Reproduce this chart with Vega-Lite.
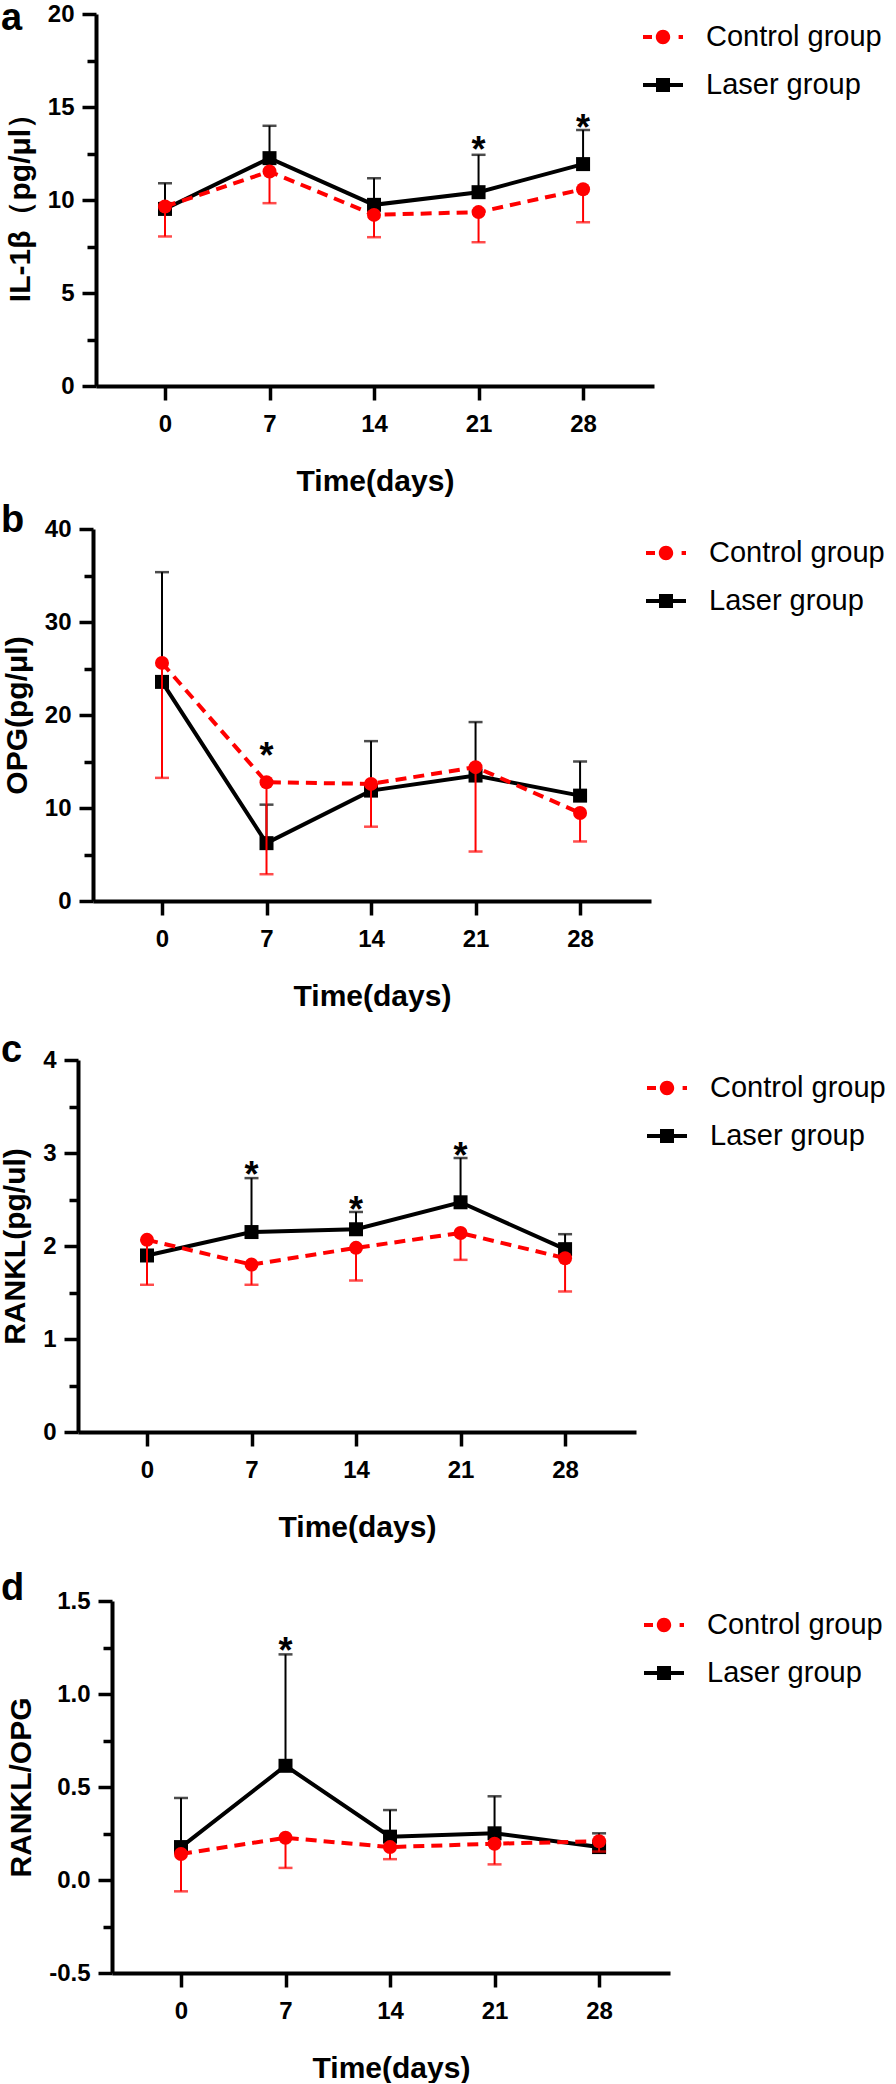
{
  "$schema": "https://vega.github.io/schema/vega-lite/v6.json",
  "background": "white",
  "padding": {"left": 0, "top": 0, "right": 0, "bottom": 0},
  "config": {
    "font": "Liberation Sans",
    "view": {"stroke": null},
    "axis": {"domainColor": "black", "domainWidth": 4, "tickColor": "black", "tickWidth": 3.5, "labelColor": "black", "labelFont": "Liberation Sans", "labelFontSize": 24, "labelFontWeight": "bold", "titleFont": "Liberation Sans", "titleFontSize": 30, "titleFontWeight": "bold", "titleColor": "black", "grid": false, "labelOverlap": false, "labelFlush": false},
    "axisX": {"tickSize": 14, "labelPadding": 12, "titlePadding": 30},
    "axisY": {"tickSize": 14, "labelPadding": 8, "titlePadding": 11.7},
    "legend": {"orient": "none", "labelFont": "Liberation Sans", "labelFontSize": 29, "labelColor": "black", "labelOffset": 23, "rowPadding": 13, "padding": 0, "symbolStrokeWidth": 0, "symbolSize": 1600, "labelLimit": 400}
  },
  "datasets": {
    "dA": [
      {"group": "Control group", "day": 0, "mean": 9.65, "bar": 8.04},
      {"group": "Control group", "day": 7, "mean": 11.53, "bar": 9.83},
      {"group": "Control group", "day": 14, "mean": 9.2, "bar": 8.0},
      {"group": "Control group", "day": 21, "mean": 9.35, "bar": 7.73},
      {"group": "Control group", "day": 28, "mean": 10.58, "bar": 8.81},
      {"group": "Laser group", "day": 0, "mean": 9.52, "bar": 10.9},
      {"group": "Laser group", "day": 7, "mean": 12.25, "bar": 13.99},
      {"group": "Laser group", "day": 14, "mean": 9.74, "bar": 11.17},
      {"group": "Laser group", "day": 21, "mean": 10.42, "bar": 12.43},
      {"group": "Laser group", "day": 28, "mean": 11.93, "bar": 13.76}
    ],
    "sA": [
      {"day": 21, "pos": 13.1, "label": "*"},
      {"day": 28, "pos": 14.3, "label": "*"}
    ],
    "lA": [{"day": -4.62, "pos": 20, "label": "a"}],
    "dB": [
      {"group": "Control group", "day": 0, "mean": 25.6, "bar": 13.24},
      {"group": "Control group", "day": 7, "mean": 12.77, "bar": 2.88},
      {"group": "Control group", "day": 14, "mean": 12.59, "bar": 7.99},
      {"group": "Control group", "day": 21, "mean": 14.39, "bar": 5.32},
      {"group": "Control group", "day": 28, "mean": 9.46, "bar": 6.4},
      {"group": "Laser group", "day": 0, "mean": 23.56, "bar": 35.36},
      {"group": "Laser group", "day": 7, "mean": 6.22, "bar": 10.36},
      {"group": "Laser group", "day": 14, "mean": 11.87, "bar": 17.19},
      {"group": "Laser group", "day": 21, "mean": 13.49, "bar": 19.24},
      {"group": "Laser group", "day": 28, "mean": 11.33, "bar": 15.0}
    ],
    "sB": [
      {"day": 7, "pos": 16.5, "label": "*"}
    ],
    "lB": [{"day": -4.62, "pos": 40, "label": "b"}],
    "dC": [
      {"group": "Control group", "day": 0, "mean": 2.066, "bar": 1.583},
      {"group": "Control group", "day": 7, "mean": 1.8, "bar": 1.583},
      {"group": "Control group", "day": 14, "mean": 1.98, "bar": 1.629},
      {"group": "Control group", "day": 21, "mean": 2.14, "bar": 1.851},
      {"group": "Control group", "day": 28, "mean": 1.869, "bar": 1.511},
      {"group": "Laser group", "day": 0, "mean": 1.898, "bar": 1.93},
      {"group": "Laser group", "day": 7, "mean": 2.15, "bar": 2.73},
      {"group": "Laser group", "day": 14, "mean": 2.18, "bar": 2.366},
      {"group": "Laser group", "day": 21, "mean": 2.47, "bar": 2.946},
      {"group": "Laser group", "day": 28, "mean": 1.966, "bar": 2.127}
    ],
    "sC": [
      {"day": 7, "pos": 2.85, "label": "*"},
      {"day": 14, "pos": 2.47, "label": "*"},
      {"day": 21, "pos": 3.05, "label": "*"}
    ],
    "lC": [{"day": -4.62, "pos": 4, "label": "c"}],
    "dD": [
      {"group": "Control group", "day": 0, "mean": 0.14, "bar": -0.061},
      {"group": "Control group", "day": 7, "mean": 0.227, "bar": 0.065},
      {"group": "Control group", "day": 14, "mean": 0.177, "bar": 0.112},
      {"group": "Control group", "day": 21, "mean": 0.195, "bar": 0.084},
      {"group": "Control group", "day": 28, "mean": 0.208, "bar": 0.153},
      {"group": "Laser group", "day": 0, "mean": 0.177, "bar": 0.441},
      {"group": "Laser group", "day": 7, "mean": 0.614, "bar": 1.213},
      {"group": "Laser group", "day": 14, "mean": 0.233, "bar": 0.376},
      {"group": "Laser group", "day": 21, "mean": 0.251, "bar": 0.45},
      {"group": "Laser group", "day": 28, "mean": 0.177, "bar": 0.251}
    ],
    "sD": [
      {"day": 7, "pos": 1.274, "label": "*"}
    ],
    "lD": [{"day": -4.62, "pos": 1.5, "label": "d"}]
  },
  "columns": 1,
  "align": "none",
  "spacing": 6,
  "resolve": {"scale": {"color": "independent", "shape": "independent"}},
  "concat": [
    {
      "width": 576, "height": 372,
      "data": {"name": "dA"},
      "encoding": {
        "x": {"field": "day", "type": "quantitative", "scale": {"domain": [-4.62, 32.75], "range": [18, 576], "nice": false, "zero": false}, "axis": {"values": [0, 7, 14, 21, 28], "title": "Time(days)"}},
        "y": {"field": "mean", "type": "quantitative", "scale": {"domain": [0, 20], "nice": false, "zero": false},
          "axis": {"title": "IL-1β（pg/μl）", "offset": -18, "values": [0, 2.5, 5, 7.5, 10, 12.5, 15, 17.5, 20], "labelExpr": "datum.value % 5 == 0 ? format(datum.value, 'd') : ''", "tickSize": {"condition": {"test": "datum.value % 5 == 0", "value": 14}, "value": 9}}}
      },
      "layer": [
        {"transform": [{"filter": "datum.group == 'Laser group'"}], "mark": {"type": "rule", "color": "black", "strokeWidth": 2}, "encoding": {"y2": {"field": "bar"}}},
        {"transform": [{"filter": "datum.group == 'Laser group'"}], "mark": {"type": "tick", "orient": "horizontal", "color": "black", "size": 14, "thickness": 2.5}, "encoding": {"y": {"field": "bar", "type": "quantitative"}}},
        {"transform": [{"filter": "datum.group == 'Laser group'"}], "mark": {"type": "line", "color": "black", "strokeWidth": 4}},
        {"transform": [{"filter": "datum.group == 'Laser group'"}], "mark": {"type": "point", "shape": "square", "filled": true, "color": "black", "size": 196, "opacity": 1}},
        {"transform": [{"filter": "datum.group == 'Control group'"}], "mark": {"type": "rule", "color": "#ff0000", "strokeWidth": 2}, "encoding": {"y2": {"field": "bar"}}},
        {"transform": [{"filter": "datum.group == 'Control group'"}], "mark": {"type": "tick", "orient": "horizontal", "color": "#ff0000", "size": 14, "thickness": 2.5}, "encoding": {"y": {"field": "bar", "type": "quantitative"}}},
        {"transform": [{"filter": "datum.group == 'Control group'"}], "mark": {"type": "line", "color": "#ff0000", "strokeWidth": 4, "strokeDash": [11, 7]}},
        {"transform": [{"filter": "datum.group == 'Control group'"}], "mark": {"type": "point", "shape": "circle", "filled": true, "color": "#ff0000", "size": 196, "opacity": 1}},
        {"data": {"name": "sA"}, "mark": {"type": "text", "fontSize": 36, "fontWeight": "bold", "baseline": "alphabetic", "dy": 20, "color": "black", "font": "Liberation Sans"}, "encoding": {"y": {"field": "pos", "type": "quantitative"}, "text": {"field": "label"}}},
        {"data": {"name": "lA"}, "mark": {"type": "text", "align": "left", "baseline": "alphabetic", "dx": -95, "dy": 16, "fontSize": 38, "fontWeight": "bold", "color": "black", "font": "Liberation Sans"}, "encoding": {"y": {"field": "pos", "type": "quantitative"}, "text": {"field": "label"}}},
        {"transform": [{"filter": "false"}], "mark": {"type": "point", "filled": true, "size": 1600, "opacity": 1},
         "encoding": {
           "shape": {"field": "group", "type": "nominal", "scale": {"domain": ["Control group", "Laser group"], "range": ["M-1,-0.1H-0.55V0.1H-1Z M0.36,0A0.36,0.36 0 1,1 -0.36,0A0.36,0.36 0 1,1 0.36,0Z M0.78,-0.1H1V0.1H0.78Z", "M-1,-0.1H1V0.1H-1Z M-0.35,-0.35H0.35V0.35H-0.35Z"]}, "legend": {"title": null, "orient": "none", "legendX": 565, "legendY": 3}},
           "color": {"field": "group", "type": "nominal", "scale": {"domain": ["Control group", "Laser group"], "range": ["#ff0000", "#000000"]}, "legend": {"title": null, "orient": "none", "legendX": 565, "legendY": 3}}
         }}
      ]
    },
    {
      "columns": 1,
      "align": "none",
      "spacing": 21,
      "resolve": {"scale": {"color": "independent", "shape": "independent"}},
      "concat": [
        {
          "width": 573, "height": 372,
          "data": {"name": "dB"},
          "encoding": {
            "x": {"field": "day", "type": "quantitative", "scale": {"domain": [-4.62, 32.75], "range": [15, 573], "nice": false, "zero": false}, "axis": {"values": [0, 7, 14, 21, 28], "title": "Time(days)"}},
            "y": {"field": "mean", "type": "quantitative", "scale": {"domain": [0, 40], "nice": false, "zero": false},
              "axis": {"title": "OPG(pg/μl)", "offset": -15, "values": [0, 5, 10, 15, 20, 25, 30, 35, 40], "labelExpr": "datum.value % 10 == 0 ? format(datum.value, 'd') : ''", "tickSize": {"condition": {"test": "datum.value % 10 == 0", "value": 14}, "value": 9}}}
          },
          "layer": [
            {"transform": [{"filter": "datum.group == 'Laser group'"}], "mark": {"type": "rule", "color": "black", "strokeWidth": 2}, "encoding": {"y2": {"field": "bar"}}},
            {"transform": [{"filter": "datum.group == 'Laser group'"}], "mark": {"type": "tick", "orient": "horizontal", "color": "black", "size": 14, "thickness": 2.5}, "encoding": {"y": {"field": "bar", "type": "quantitative"}}},
            {"transform": [{"filter": "datum.group == 'Laser group'"}], "mark": {"type": "line", "color": "black", "strokeWidth": 4}},
            {"transform": [{"filter": "datum.group == 'Laser group'"}], "mark": {"type": "point", "shape": "square", "filled": true, "color": "black", "size": 196, "opacity": 1}},
            {"transform": [{"filter": "datum.group == 'Control group'"}], "mark": {"type": "rule", "color": "#ff0000", "strokeWidth": 2}, "encoding": {"y2": {"field": "bar"}}},
            {"transform": [{"filter": "datum.group == 'Control group'"}], "mark": {"type": "tick", "orient": "horizontal", "color": "#ff0000", "size": 14, "thickness": 2.5}, "encoding": {"y": {"field": "bar", "type": "quantitative"}}},
            {"transform": [{"filter": "datum.group == 'Control group'"}], "mark": {"type": "line", "color": "#ff0000", "strokeWidth": 4, "strokeDash": [11, 7]}},
            {"transform": [{"filter": "datum.group == 'Control group'"}], "mark": {"type": "point", "shape": "circle", "filled": true, "color": "#ff0000", "size": 196, "opacity": 1}},
            {"data": {"name": "sB"}, "mark": {"type": "text", "fontSize": 36, "fontWeight": "bold", "baseline": "alphabetic", "dy": 20, "color": "black", "font": "Liberation Sans"}, "encoding": {"y": {"field": "pos", "type": "quantitative"}, "text": {"field": "label"}}},
            {"data": {"name": "lB"}, "mark": {"type": "text", "align": "left", "baseline": "alphabetic", "dx": -92, "dy": 3, "fontSize": 38, "fontWeight": "bold", "color": "black", "font": "Liberation Sans"}, "encoding": {"y": {"field": "pos", "type": "quantitative"}, "text": {"field": "label"}}},
            {"transform": [{"filter": "false"}], "mark": {"type": "point", "filled": true, "size": 1600, "opacity": 1},
             "encoding": {
               "shape": {"field": "group", "type": "nominal", "scale": {"domain": ["Control group", "Laser group"], "range": ["M-1,-0.1H-0.55V0.1H-1Z M0.36,0A0.36,0.36 0 1,1 -0.36,0A0.36,0.36 0 1,1 0.36,0Z M0.78,-0.1H1V0.1H0.78Z", "M-1,-0.1H1V0.1H-1Z M-0.35,-0.35H0.35V0.35H-0.35Z"]}, "legend": {"title": null, "orient": "none", "legendX": 568, "legendY": 4}},
               "color": {"field": "group", "type": "nominal", "scale": {"domain": ["Control group", "Laser group"], "range": ["#ff0000", "#000000"]}, "legend": {"title": null, "orient": "none", "legendX": 568, "legendY": 4}}
             }}
          ]
        },
        {
          "columns": 1,
          "align": "none",
          "spacing": 28,
          "resolve": {"scale": {"color": "independent", "shape": "independent"}},
          "concat": [
            {
              "width": 558, "height": 372,
              "data": {"name": "dC"},
              "encoding": {
                "x": {"field": "day", "type": "quantitative", "scale": {"domain": [-4.62, 32.75], "range": [0, 558], "nice": false, "zero": false}, "axis": {"values": [0, 7, 14, 21, 28], "title": "Time(days)"}},
                "y": {"field": "mean", "type": "quantitative", "scale": {"domain": [0, 4], "nice": false, "zero": false},
                  "axis": {"title": "RANKL(pg/ul)", "values": [0, 0.5, 1, 1.5, 2, 2.5, 3, 3.5, 4], "labelExpr": "datum.value % 1 == 0 ? format(datum.value, 'd') : ''", "tickSize": {"condition": {"test": "datum.value % 1 == 0", "value": 14}, "value": 9}}}
              },
              "layer": [
                {"transform": [{"filter": "datum.group == 'Laser group'"}], "mark": {"type": "rule", "color": "black", "strokeWidth": 2}, "encoding": {"y2": {"field": "bar"}}},
                {"transform": [{"filter": "datum.group == 'Laser group'"}], "mark": {"type": "tick", "orient": "horizontal", "color": "black", "size": 14, "thickness": 2.5}, "encoding": {"y": {"field": "bar", "type": "quantitative"}}},
                {"transform": [{"filter": "datum.group == 'Laser group'"}], "mark": {"type": "line", "color": "black", "strokeWidth": 4}},
                {"transform": [{"filter": "datum.group == 'Laser group'"}], "mark": {"type": "point", "shape": "square", "filled": true, "color": "black", "size": 196, "opacity": 1}},
                {"transform": [{"filter": "datum.group == 'Control group'"}], "mark": {"type": "rule", "color": "#ff0000", "strokeWidth": 2}, "encoding": {"y2": {"field": "bar"}}},
                {"transform": [{"filter": "datum.group == 'Control group'"}], "mark": {"type": "tick", "orient": "horizontal", "color": "#ff0000", "size": 14, "thickness": 2.5}, "encoding": {"y": {"field": "bar", "type": "quantitative"}}},
                {"transform": [{"filter": "datum.group == 'Control group'"}], "mark": {"type": "line", "color": "#ff0000", "strokeWidth": 4, "strokeDash": [11, 7]}},
                {"transform": [{"filter": "datum.group == 'Control group'"}], "mark": {"type": "point", "shape": "circle", "filled": true, "color": "#ff0000", "size": 196, "opacity": 1}},
                {"data": {"name": "sC"}, "mark": {"type": "text", "fontSize": 36, "fontWeight": "bold", "baseline": "alphabetic", "dy": 20, "color": "black", "font": "Liberation Sans"}, "encoding": {"y": {"field": "pos", "type": "quantitative"}, "text": {"field": "label"}}},
                {"data": {"name": "lC"}, "mark": {"type": "text", "align": "left", "baseline": "alphabetic", "dx": -77, "dy": 2, "fontSize": 38, "fontWeight": "bold", "color": "black", "font": "Liberation Sans"}, "encoding": {"y": {"field": "pos", "type": "quantitative"}, "text": {"field": "label"}}},
                {"transform": [{"filter": "false"}], "mark": {"type": "point", "filled": true, "size": 1600, "opacity": 1},
                 "encoding": {
                   "shape": {"field": "group", "type": "nominal", "scale": {"domain": ["Control group", "Laser group"], "range": ["M-1,-0.1H-0.55V0.1H-1Z M0.36,0A0.36,0.36 0 1,1 -0.36,0A0.36,0.36 0 1,1 0.36,0Z M0.78,-0.1H1V0.1H0.78Z", "M-1,-0.1H1V0.1H-1Z M-0.35,-0.35H0.35V0.35H-0.35Z"]}, "legend": {"title": null, "orient": "none", "legendX": 569, "legendY": 8}},
                   "color": {"field": "group", "type": "nominal", "scale": {"domain": ["Control group", "Laser group"], "range": ["#ff0000", "#000000"]}, "legend": {"title": null, "orient": "none", "legendX": 569, "legendY": 8}}
                 }}
              ]
            },
            {
              "width": 592, "height": 372,
              "data": {"name": "dD"},
              "encoding": {
                "x": {"field": "day", "type": "quantitative", "scale": {"domain": [-4.62, 32.75], "range": [34, 592], "nice": false, "zero": false}, "axis": {"values": [0, 7, 14, 21, 28], "title": "Time(days)"}},
                "y": {"field": "mean", "type": "quantitative", "scale": {"domain": [-0.5, 1.5], "nice": false, "zero": false},
                  "axis": {"title": "RANKL/OPG", "offset": -34, "values": [-0.5, -0.25, 0, 0.25, 0.5, 0.75, 1, 1.25, 1.5], "labelExpr": "(datum.value * 2) % 1 == 0 ? (datum.value < 0 ? '-' : '') + format(abs(datum.value), '.1f') : ''", "tickSize": {"condition": {"test": "(datum.value * 2) % 1 == 0", "value": 14}, "value": 9}}}
              },
              "layer": [
                {"transform": [{"filter": "datum.group == 'Laser group'"}], "mark": {"type": "rule", "color": "black", "strokeWidth": 2}, "encoding": {"y2": {"field": "bar"}}},
                {"transform": [{"filter": "datum.group == 'Laser group'"}], "mark": {"type": "tick", "orient": "horizontal", "color": "black", "size": 14, "thickness": 2.5}, "encoding": {"y": {"field": "bar", "type": "quantitative"}}},
                {"transform": [{"filter": "datum.group == 'Laser group'"}], "mark": {"type": "line", "color": "black", "strokeWidth": 4}},
                {"transform": [{"filter": "datum.group == 'Laser group'"}], "mark": {"type": "point", "shape": "square", "filled": true, "color": "black", "size": 196, "opacity": 1}},
                {"transform": [{"filter": "datum.group == 'Control group'"}], "mark": {"type": "rule", "color": "#ff0000", "strokeWidth": 2}, "encoding": {"y2": {"field": "bar"}}},
                {"transform": [{"filter": "datum.group == 'Control group'"}], "mark": {"type": "tick", "orient": "horizontal", "color": "#ff0000", "size": 14, "thickness": 2.5}, "encoding": {"y": {"field": "bar", "type": "quantitative"}}},
                {"transform": [{"filter": "datum.group == 'Control group'"}], "mark": {"type": "line", "color": "#ff0000", "strokeWidth": 4, "strokeDash": [11, 7]}},
                {"transform": [{"filter": "datum.group == 'Control group'"}], "mark": {"type": "point", "shape": "circle", "filled": true, "color": "#ff0000", "size": 196, "opacity": 1}},
                {"data": {"name": "sD"}, "mark": {"type": "text", "fontSize": 36, "fontWeight": "bold", "baseline": "alphabetic", "dy": 20, "color": "black", "font": "Liberation Sans"}, "encoding": {"y": {"field": "pos", "type": "quantitative"}, "text": {"field": "label"}}},
                {"data": {"name": "lD"}, "mark": {"type": "text", "align": "left", "baseline": "alphabetic", "dx": -111, "dy": -1, "fontSize": 38, "fontWeight": "bold", "color": "black", "font": "Liberation Sans"}, "encoding": {"y": {"field": "pos", "type": "quantitative"}, "text": {"field": "label"}}},
                {"transform": [{"filter": "false"}], "mark": {"type": "point", "filled": true, "size": 1600, "opacity": 1},
                 "encoding": {
                   "shape": {"field": "group", "type": "nominal", "scale": {"domain": ["Control group", "Laser group"], "range": ["M-1,-0.1H-0.55V0.1H-1Z M0.36,0A0.36,0.36 0 1,1 -0.36,0A0.36,0.36 0 1,1 0.36,0Z M0.78,-0.1H1V0.1H0.78Z", "M-1,-0.1H1V0.1H-1Z M-0.35,-0.35H0.35V0.35H-0.35Z"]}, "legend": {"title": null, "orient": "none", "legendX": 566, "legendY": 4}},
                   "color": {"field": "group", "type": "nominal", "scale": {"domain": ["Control group", "Laser group"], "range": ["#ff0000", "#000000"]}, "legend": {"title": null, "orient": "none", "legendX": 566, "legendY": 4}}
                 }}
              ]
            }
          ]
        }
      ]
    }
  ]
}
